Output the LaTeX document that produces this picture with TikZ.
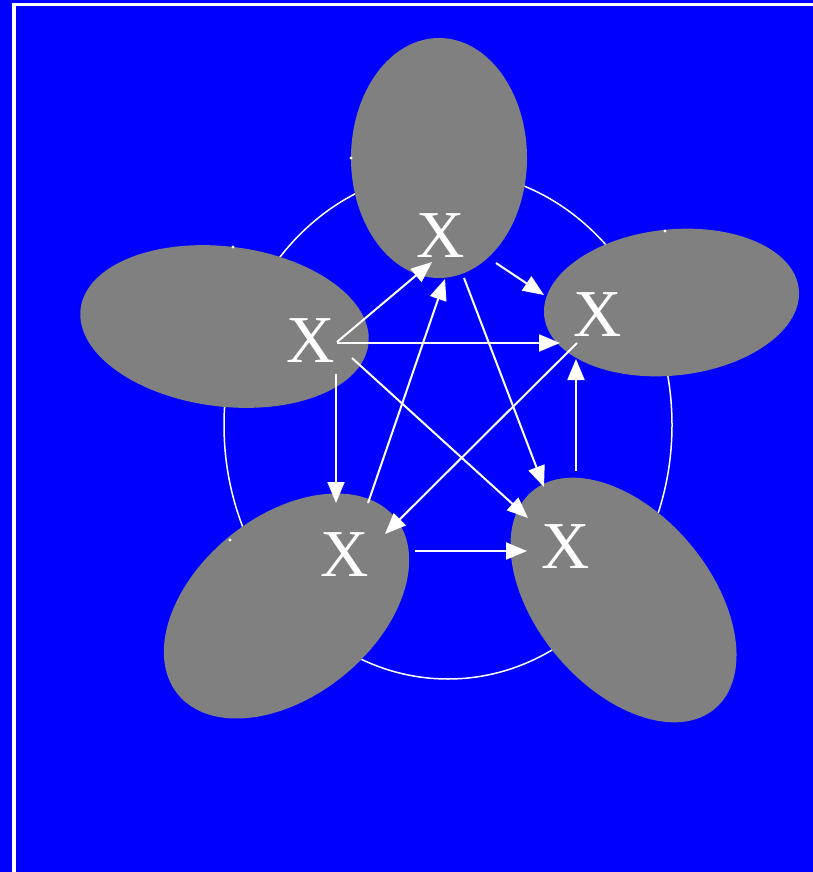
\documentclass[tikz,border=0pt]{standalone}
\usepackage{fontspec}
\setmainfont{Liberation Serif}
\usetikzlibrary{arrows.meta}
\definecolor{bgblue}{HTML}{0000FF}
\definecolor{petal}{HTML}{808080}
\tikzset{
  petalfill/.style={fill=petal},
  xlabel/.style={text=white, inner sep=0pt, font=\fontsize{67}{70}\selectfont},
  link/.style={draw=white, line width=2pt, -{Triangle[length=21pt,width=17pt]}},
  ring/.style={draw=white, line width=1.5pt},
  speck/.style={fill=white}
}
\begin{document}
\begin{tikzpicture}[x=1pt,y=-1pt]
\useasboundingbox (0,0) rectangle (813,872);
\fill[bgblue] (0,0) rectangle (813,872);
\draw[white, line width=3.5pt] (14,872) -- (14,4.75) -- (813,4.75);
% ring
\draw[ring] (448,425) ellipse [x radius=224, y radius=254];
% petals
\fill[petalfill] (439,158) ellipse [x radius=88, y radius=120];
\fill[petalfill, rotate around={-7:(224.5,326.5)}] (224.5,326.5) ellipse [x radius=145, y radius=80];
\fill[petalfill, rotate around={6:(671.5,302.5)}] (671.5,302.5) ellipse [x radius=128, y radius=73];
\fill[petalfill, rotate around={39:(286.5,606)}] (286.5,606) ellipse [x radius=140, y radius=90];
\fill[petalfill, rotate around={-50:(623.5,600)}] (623.5,600) ellipse [x radius=142, y radius=87];
% specks
\fill[speck] (351,158) circle [radius=1.6];
\fill[speck] (233,247) circle [radius=1.6];
\fill[speck] (665,231) circle [radius=1.6];
\fill[speck] (230,540) circle [radius=1.6];
% labels
\node[xlabel] (xt) at (441,236) {X};
\node[xlabel] (xl) at (311,341) {X};
\node[xlabel] (xr) at (598,315) {X};
\node[xlabel] (xbl) at (345,555) {X};
\node[xlabel] (xbr) at (566,547) {X};
% arrow endpoints
\coordinate (a1s) at (337,342);  \coordinate (a1e) at (432,262);
\coordinate (a2s) at (337,343);  \coordinate (a2e) at (560,343);
\coordinate (a3s) at (352,358);  \coordinate (a3e) at (528,518);
\coordinate (a4s) at (336,374);  \coordinate (a4e) at (336,503);
\coordinate (a5s) at (368,503);  \coordinate (a5e) at (445,279);
\coordinate (a6s) at (464,278);  \coordinate (a6e) at (544,487);
\coordinate (a7s) at (496,263);  \coordinate (a7e) at (544,295);
\coordinate (a8s) at (577,343);  \coordinate (a8e) at (385,534);
\coordinate (a9s) at (576,471);  \coordinate (a9e) at (576,359);
\coordinate (a10s) at (415,551); \coordinate (a10e) at (527,551);
\draw[link] (a1s) -- (a1e);
\draw[link] (a2s) -- (a2e);
\draw[link] (a3s) -- (a3e);
\draw[link] (a4s) -- (a4e);
\draw[link] (a5s) -- (a5e);
\draw[link] (a6s) -- (a6e);
\draw[link] (a7s) -- (a7e);
\draw[link] (a8s) -- (a8e);
\draw[link] (a9s) -- (a9e);
\draw[link] (a10s) -- (a10e);
\end{tikzpicture}
\end{document}
